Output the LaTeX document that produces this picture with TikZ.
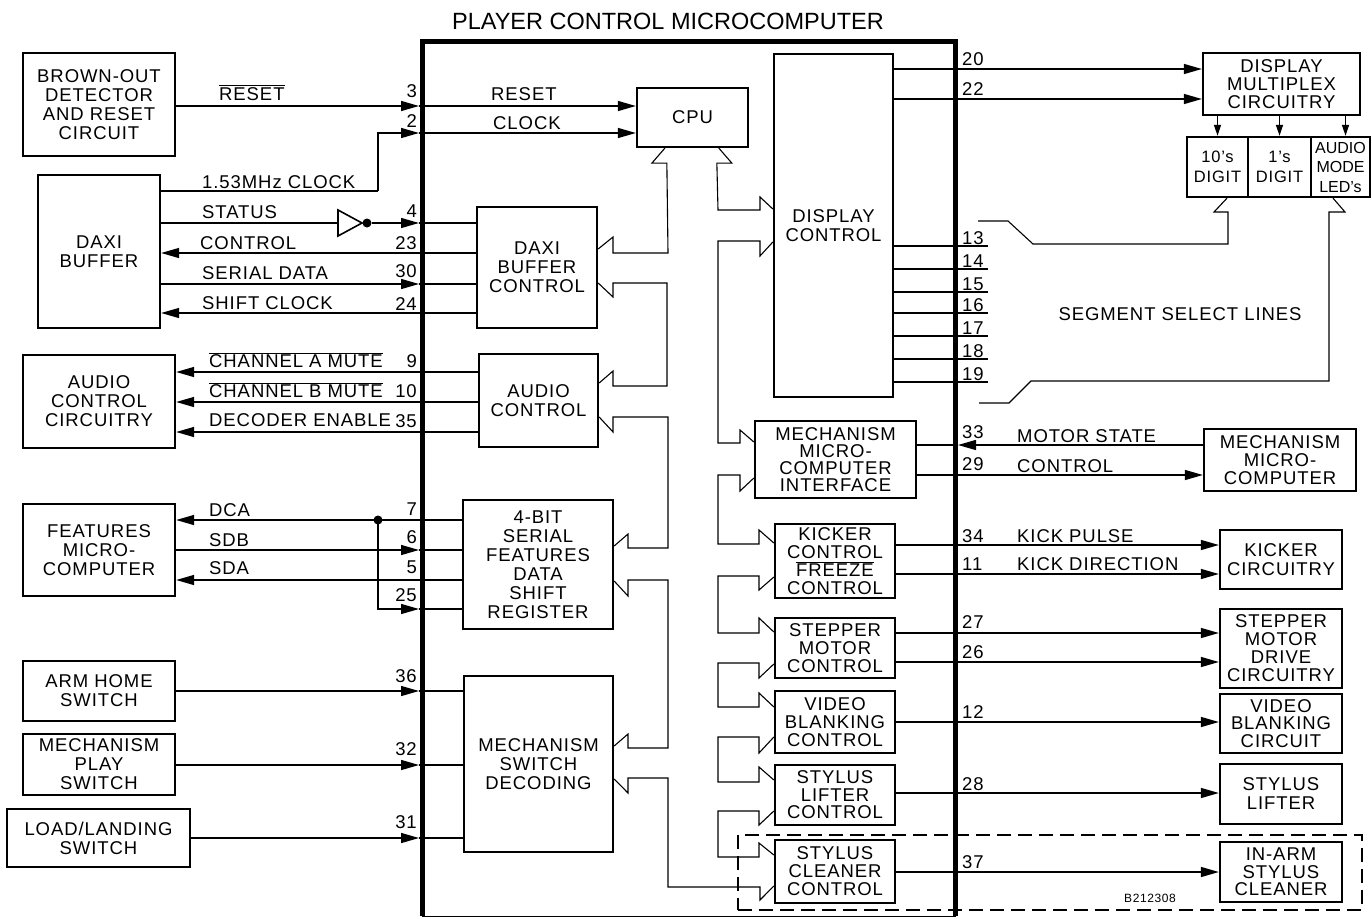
\documentclass[tikz,border=0pt]{standalone}
\usepackage{fontspec}
\setmainfont{Liberation Sans}[LetterSpace=5]
\usetikzlibrary{arrows.meta,calc}
\newcommand{\ovl}[1]{$\overline{\mbox{#1}}$}
\newcommand{\lbl}{\fontsize{18.5}{19}\selectfont}
\newcommand{\ttl}{\fontsize{23.5}{26}\selectfont\addfontfeatures{LetterSpace=0}}
\newcommand{\sml}{\fontsize{16.5}{19.5}\selectfont}
\tikzset{
  blk/.style={draw, line width=2.3pt, inner sep=0pt, align=center, font=\lbl},
  con/.style={line width=1.4pt},
  bus/.style={line width=1.1pt, line join=miter},
  arr/.style={-{Triangle[length=18pt,width=10pt]}},
  sarr/.style={-{Triangle[length=11pt,width=7pt]}},
  txt/.style={font=\lbl, inner sep=0pt},
}
\begin{document}
\begin{tikzpicture}[x=1pt,y=-1pt]
\fill[white] (0,0) rectangle (1372,918);
\useasboundingbox (0,0) rectangle (1372,918);

% title and chip outline
\node[font=\ttl, inner sep=0pt] (title) at (668,21) {PLAYER CONTROL MICROCOMPUTER};
\draw[line width=5pt] (422,916) -- (422,41) -- (955.5,41) -- (955.5,916);
\draw[line width=1pt] (422,916) -- (955.5,916);

% dashed group
\node[draw, line width=1.3pt, dash pattern=on 14pt off 7pt, minimum width=624, minimum height=75, inner sep=0pt] (grp) at (1050,872.5) {};
\node[font=\fontsize{12}{12}\selectfont, inner sep=0pt] (code) at (1150,898) {B212308};

% left external boxes
\node[blk, minimum width=152, minimum height=103] (brown) at (99,104.5) {BROWN-OUT\\DETECTOR\\AND RESET\\CIRCUIT};
\node[blk, minimum width=122, minimum height=153] (daxibuf) at (99,251.5) {DAXI\\BUFFER};
\node[blk, minimum width=152, minimum height=93] (audiocirc) at (99,401.5) {AUDIO\\CONTROL\\CIRCUITRY};
\node[blk, minimum width=152, minimum height=92] (features) at (99,550) {FEATURES\\MICRO-\\COMPUTER};
\node[blk, minimum width=152, minimum height=60] (armhome) at (99,691) {ARM HOME\\SWITCH};
\node[blk, minimum width=152, minimum height=61] (mechplay) at (99,764.5) {MECHANISM\\PLAY\\SWITCH};
\node[blk, minimum width=183, minimum height=58] (loadland) at (98.5,838) {LOAD/LANDING\\SWITCH};

% internal blocks
\node[blk, minimum width=111, minimum height=59] (cpu) at (692.5,117.5) {CPU};
\node[blk, minimum width=120, minimum height=121] (daxictl) at (537,267.5) {DAXI\\BUFFER\\CONTROL};
\node[blk, minimum width=119, minimum height=93] (audioctl) at (538.5,400.5) {AUDIO\\CONTROL};
\node[blk, minimum width=150, minimum height=129] (fourbit) at (538,564.5) {4-BIT\\SERIAL\\FEATURES\\DATA\\SHIFT\\REGISTER};
\node[blk, minimum width=149, minimum height=176] (mechsw) at (538.5,764) {MECHANISM\\SWITCH\\DECODING};
\node[blk, minimum width=119, minimum height=343] (dispctl) at (833.5,225.5) {DISPLAY\\CONTROL};
\node[blk, minimum width=161, minimum height=77, font=\fontsize{18.5}{17}\selectfont] (mechif) at (835.5,459.5) {MECHANISM\\MICRO-\\COMPUTER\\INTERFACE};
\node[blk, minimum width=120, minimum height=74, font=\fontsize{18.5}{18}\selectfont] (kickctl) at (835,561) {KICKER\\CONTROL\\\ovl{FREEZE}\\CONTROL};
\node[blk, minimum width=120, minimum height=60, font=\fontsize{18.5}{18}\selectfont] (stepctl) at (835,648) {STEPPER\\MOTOR\\CONTROL};
\node[blk, minimum width=120, minimum height=62, font=\fontsize{18.5}{18}\selectfont] (videoctl) at (835,722) {VIDEO\\BLANKING\\CONTROL};
\node[blk, minimum width=120, minimum height=60, font=\fontsize{18.5}{17.5}\selectfont] (lifterctl) at (835,795) {STYLUS\\LIFTER\\CONTROL};
\node[blk, minimum width=120, minimum height=63, font=\fontsize{18.5}{18}\selectfont] (cleanerctl) at (835,871.5) {STYLUS\\CLEANER\\CONTROL};

% right external boxes
\node[blk, minimum width=157, minimum height=62, font=\fontsize{18.5}{18}\selectfont] (dmc) at (1281.5,84) {DISPLAY\\MULTIPLEX\\CIRCUITRY};
\node[blk, minimum width=61, minimum height=60, font=\sml] (tens) at (1217.5,167) {10's\\DIGIT};
\node[blk, minimum width=63, minimum height=60, font=\sml] (ones) at (1279.5,167) {1's\\DIGIT};
\node[blk, minimum width=59, minimum height=60, font=\fontsize{16}{19.5}\selectfont\addfontfeatures{LetterSpace=0}] (leds) at (1340.5,167) {AUDIO\\MODE\\LED's};
\node[blk, minimum width=152, minimum height=62, font=\fontsize{18.5}{18}\selectfont] (mechmc) at (1280,460) {MECHANISM\\MICRO-\\COMPUTER};
\node[blk, minimum width=122, minimum height=59] (kickcirc) at (1281,559.5) {KICKER\\CIRCUITRY};
\node[blk, minimum width=122, minimum height=79, font=\fontsize{18.5}{18}\selectfont] (stepdrv) at (1281,648.5) {STEPPER\\MOTOR\\DRIVE\\CIRCUITRY};
\node[blk, minimum width=122, minimum height=59, font=\fontsize{18.5}{17.5}\selectfont] (videocirc) at (1281,723.5) {VIDEO\\BLANKING\\CIRCUIT};
\node[blk, minimum width=122, minimum height=60] (lifter) at (1281,794) {STYLUS\\LIFTER};
\node[blk, minimum width=122, minimum height=60, font=\fontsize{18.5}{17.5}\selectfont] (inarm) at (1281,872) {IN-ARM\\STYLUS\\CLEANER};

% pin coordinates on chip edges
\coordinate (L3) at (419,106);   \coordinate (L2) at (419,133);
\coordinate (L4) at (419,223);   \coordinate (L23) at (419,253);
\coordinate (L30) at (419,284);  \coordinate (L24) at (419,313);
\coordinate (L9) at (419,372);   \coordinate (L10) at (419,402);
\coordinate (L35) at (419,432);  \coordinate (L7) at (419,520);
\coordinate (L6) at (419,550);   \coordinate (L5) at (419,580);
\coordinate (L25) at (419,609);  \coordinate (L36) at (419,691);
\coordinate (L32) at (419,765);  \coordinate (L31) at (419,838);
\coordinate (R20) at (958,69);   \coordinate (R22) at (958,99);
\coordinate (R33) at (958,445);  \coordinate (R29) at (958,475);
\coordinate (R34) at (958,545);  \coordinate (R11) at (958,574);
\coordinate (R27) at (958,633);  \coordinate (R26) at (958,662);
\coordinate (R12) at (958,722);  \coordinate (R28) at (958,793);
\coordinate (R37) at (958,872);

% left signals
\draw[con,arr] (brown.east |- L3) -- (L3);
\draw[con,arr] (L3) -- (cpu.west |- L3);
\coordinate (ck) at (378,191);
\draw[con] (daxibuf.east |- ck) -- (ck);
\draw[con,arr] (ck) |- (L2);
\draw[con,arr] (L2) -- (cpu.west |- L2);
\coordinate (invin) at (338,223);
\coordinate (invout) at (371.5,223);
\draw[con] (daxibuf.east |- L4) -- (invin);
\draw[line width=1.6pt, line join=miter] (338,210) -- (362,223) -- (338,236) -- cycle;
\fill (367,223) circle (4.5);
\draw[con,arr] (invout) -- (L4);
\draw[con] (L4) -- (daxictl.west |- L4);
\draw[con,arr] (daxictl.west |- L23) -- (daxibuf.east |- L23);
\draw[con,arr] (daxibuf.east |- L30) -- (L30);
\draw[con] (L30) -- (daxictl.west |- L30);
\draw[con,arr] (daxictl.west |- L24) -- (daxibuf.east |- L24);
\draw[con,arr] (audioctl.west |- L9) -- (audiocirc.east |- L9);
\draw[con,arr] (audioctl.west |- L10) -- (audiocirc.east |- L10);
\draw[con,arr] (audioctl.west |- L35) -- (audiocirc.east |- L35);
\draw[con,arr] (fourbit.west |- L7) -- (features.east |- L7);
\coordinate (dj) at (378,520);
\fill (dj) circle (4.5);
\draw[con,arr] (features.east |- L6) -- (L6);
\draw[con] (L6) -- (fourbit.west |- L6);
\draw[con,arr] (fourbit.west |- L5) -- (features.east |- L5);
\draw[con,arr] (dj) |- (L25);
\draw[con] (L25) -- (fourbit.west |- L25);
\draw[con,arr] (armhome.east |- L36) -- (L36);
\draw[con] (L36) -- (mechsw.west |- L36);
\draw[con,arr] (mechplay.east |- L32) -- (L32);
\draw[con] (L32) -- (mechsw.west |- L32);
\draw[con,arr] (loadland.east |- L31) -- (L31);
\draw[con] (L31) -- (mechsw.west |- L31);

% left labels
\node[txt, anchor=base west] (nRES) at (219,100) {\ovl{RESET}};
\node[txt, anchor=base west] (nCLK) at (202,188) {1.53MHz CLOCK};
\node[txt, anchor=base west] (nST) at (202,218.5) {STATUS};
\node[txt, anchor=base west] (nCTL) at (200,249.5) {CONTROL};
\node[txt, anchor=base west] (nSD) at (202,279.5) {SERIAL DATA};
\node[txt, anchor=base west] (nSC) at (202,309.5) {SHIFT CLOCK};
\node[txt, anchor=base west] (nCA) at (209,367.5) {\ovl{CHANNEL A MUTE}};
\node[txt, anchor=base west] (nCB) at (209,397.5) {\ovl{CHANNEL B MUTE}};
\node[txt, anchor=base west] (nDE) at (209,426.5) {DECODER ENABLE};
\node[txt, anchor=base west] (nDCA) at (209,516) {DCA};
\node[txt, anchor=base west] (nSDB) at (209,546) {SDB};
\node[txt, anchor=base west] (nSDA) at (209,574.5) {SDA};
\node[txt, anchor=base west] (iRES) at (491,100.5) {RESET};
\node[txt, anchor=base west] (iCLK) at (493,129.5) {CLOCK};

% left pin numbers
\foreach \n/\b in {3/97,2/127,4/217,23/249,30/277,24/310,9/367,10/397,35/427,7/515,6/543,5/573,25/601,36/682,32/755,31/828}
  \node[txt, anchor=base east] (pl\n) at (417,\b) {\n};

% right signals
\draw[con,arr] (dispctl.east |- R20) -- (dmc.west |- R20);
\draw[con,arr] (dispctl.east |- R22) -- (dmc.west |- R22);
\coordinate (ledin) at ([xshift=5pt]leds.north);
\draw[con,sarr] (dmc.south -| tens.north) -- (tens.north);
\draw[con,sarr] (dmc.south -| ones.north) -- (ones.north);
\draw[con,sarr] (dmc.south -| ledin) -- (ledin);
\foreach \y/\n in {246/13,269/14,292/15,313/16,336/17,359/18,382/19}{
  \draw[con] (dispctl.east |- 0,\y) -- (988,\y);
  \node[txt, anchor=base west] (pr\n) at (962,\y-2) {\n};
}
\draw[con,arr] (mechmc.west |- R33) -- (R33);
\draw[con] (R33) -- (mechif.east |- R33);
\draw[con,arr] (mechif.east |- R29) -- (mechmc.west |- R29);
\draw[con,arr] (kickctl.east |- R34) -- (kickcirc.west |- R34);
\draw[con,arr] (kickctl.east |- R11) -- (kickcirc.west |- R11);
\draw[con,arr] (stepctl.east |- R27) -- (stepdrv.west |- R27);
\draw[con,arr] (stepctl.east |- R26) -- (stepdrv.west |- R26);
\draw[con,arr] (videoctl.east |- R12) -- (videocirc.west |- R12);
\draw[con,arr] (lifterctl.east |- R28) -- (lifter.west |- R28);
\draw[con,arr] (cleanerctl.east |- R37) -- (inarm.west |- R37);

\foreach \n/\b in {20/65,22/95,33/438,29/470,34/542,11/570,27/628,26/658,12/718,28/790,37/868}
  \node[txt, anchor=base west] (pr\n) at (962,\b) {\n};
\node[txt, anchor=base west] (nMS) at (1017,442) {MOTOR STATE};
\node[txt, anchor=base west] (nCR) at (1017,472) {CONTROL};
\node[txt, anchor=base west] (nKP) at (1017,542) {KICK PULSE};
\node[txt, anchor=base west] (nKD) at (1017,570) {KICK DIRECTION};
\node[txt] (seg) at (1180,314) {SEGMENT SELECT LINES};

% segment select buses
\draw[bus] (978,221) -- (1008,221) -- (1033,244) -- (1228,244) -- (1228,212) -- (1214,212) -- (tens.south -| 1227,0);
\draw[bus] (979,403) -- (1009,403) -- (1031,381) -- (1329,381) -- (1329,212) -- (1345,212) -- (leds.south -| 1333,0);

% internal buses, left chain
\draw[bus] ($(cpu.south west)+(29,0)$) -- ++(-13,15) -- ++(15,0) -- (668,253) -- (613,253) -- (613,237) -- (daxictl.east |- 0,249);
\draw[bus] (daxictl.east |- 0,283) -- (613,297) -- (613,283) -- (667,283) -- (667,386) -- (613,386) -- (613,371) -- (audioctl.east |- 0,383);
\draw[bus] (audioctl.east |- 0,417) -- (613,432) -- (613,417) -- (668,417) -- (668,548) -- (628,548) -- (628,534) -- (fourbit.east |- 0,546);
\draw[bus] (fourbit.east |- 0,581) -- (628,596) -- (628,580) -- (668,580) -- (668,748) -- (628,748) -- (628,734) -- (mechsw.east |- 0,746);
\draw[bus] (mechsw.east |- 0,779) -- (628,793) -- (628,778) -- (668,778) -- (668,887) -- (760,887) -- (760,900) -- (cleanerctl.west |- 0,886);

% internal buses, right chain
\draw[bus] ($(cpu.south west)+(83,0)$) -- ++(13,15) -- ++(-15,0) -- (718,210) -- (760,210) -- (760,197) -- (dispctl.west |- 0,209);
\draw[bus] (dispctl.west |- 0,242) -- (760,256) -- (760,241) -- (718,241) -- (718,443) -- (740,443) -- (740,430) -- (mechif.west |- 0,442);
\draw[bus] (mechif.west |- 0,478) -- (740,491) -- (740,475) -- (718,475) -- (718,544) -- (759,544) -- (759,530) -- (kickctl.west |- 0,543);
\draw[bus] (kickctl.west |- 0,577) -- (759,590) -- (759,576) -- (718,576) -- (718,633) -- (759,633) -- (759,618) -- (stepctl.west |- 0,632);
\draw[bus] (stepctl.west |- 0,664) -- (759,678) -- (759,663) -- (718,663) -- (718,707) -- (759,707) -- (759,693) -- (videoctl.west |- 0,707);
\draw[bus] (videoctl.west |- 0,737) -- (759,753) -- (759,737) -- (718,737) -- (718,782) -- (759,782) -- (759,767) -- (lifterctl.west |- 0,780);
\draw[bus] (lifterctl.west |- 0,811) -- (759,825) -- (759,811) -- (718,811) -- (718,857) -- (759,857) -- (759,843) -- (cleanerctl.west |- 0,855);
\end{tikzpicture}
\end{document}
